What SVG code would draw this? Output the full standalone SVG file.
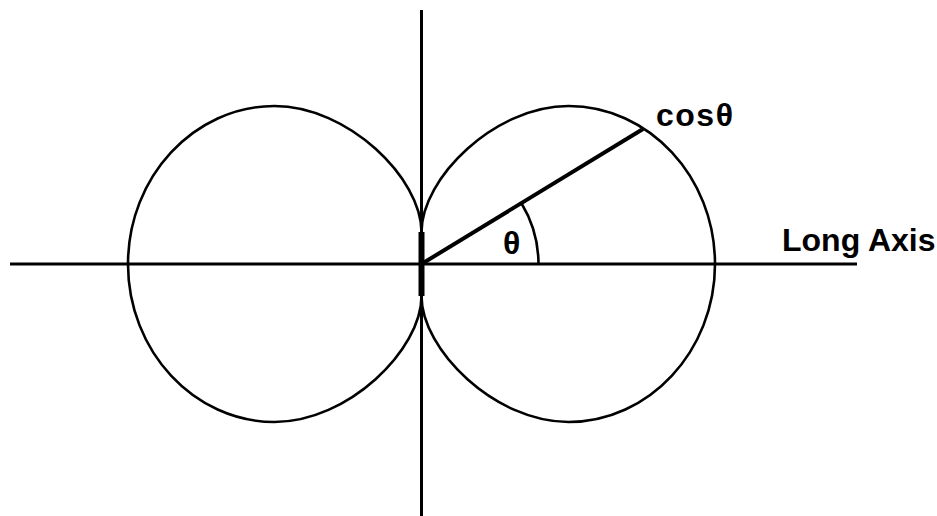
<svg xmlns="http://www.w3.org/2000/svg" width="937" height="516" viewBox="0 0 937 516">
<style>
.axis{stroke:#000;stroke-width:3;fill:none}
.lobe{stroke:#000;stroke-width:2.6;fill:none}
.lbl{font-family:"Liberation Sans",Arial,sans-serif;font-weight:bold;font-size:32px;fill:#000}
</style>
<rect width="937" height="516" fill="#fff"/>
<g id="connectors">
<line class="axis" x1="421.5" y1="10" x2="421.5" y2="516"/>
<line class="axis" x1="10" y1="264" x2="857" y2="264"/>
<line x1="421.5" y1="232" x2="421.5" y2="296" stroke="#000" stroke-width="6"/>
</g>
<g id="lobe-right">
<path class="lobe" d="M421.5,232 C421.5,178 495,106 568.5,106 C649,106 715,177 715,264 C715,351 649,422 568.5,422 C495,422 421.5,350 421.5,296 Z"/>
</g>
<g id="lobe-left">
<path class="lobe" d="M421.5,232 C421.5,178 348,106 274.5,106 C194,106 128,177 128,264 C128,351 194,422 274.5,422 C348,422 421.5,350 421.5,296 Z"/>
</g>
<g id="radius">
<line x1="421.5" y1="264" x2="643" y2="129" stroke="#000" stroke-width="4"/>
<path class="lobe" d="M538.5,264 A117,117 0 0 0 521.6,203.5"/>
</g>
<g id="labels">
<text class="lbl" x="503" y="254">θ</text>
<text class="lbl" x="656" y="126" letter-spacing="1.5">cosθ</text>
<text class="lbl" x="782" y="251">Long Axis</text>
</g>
</svg>
